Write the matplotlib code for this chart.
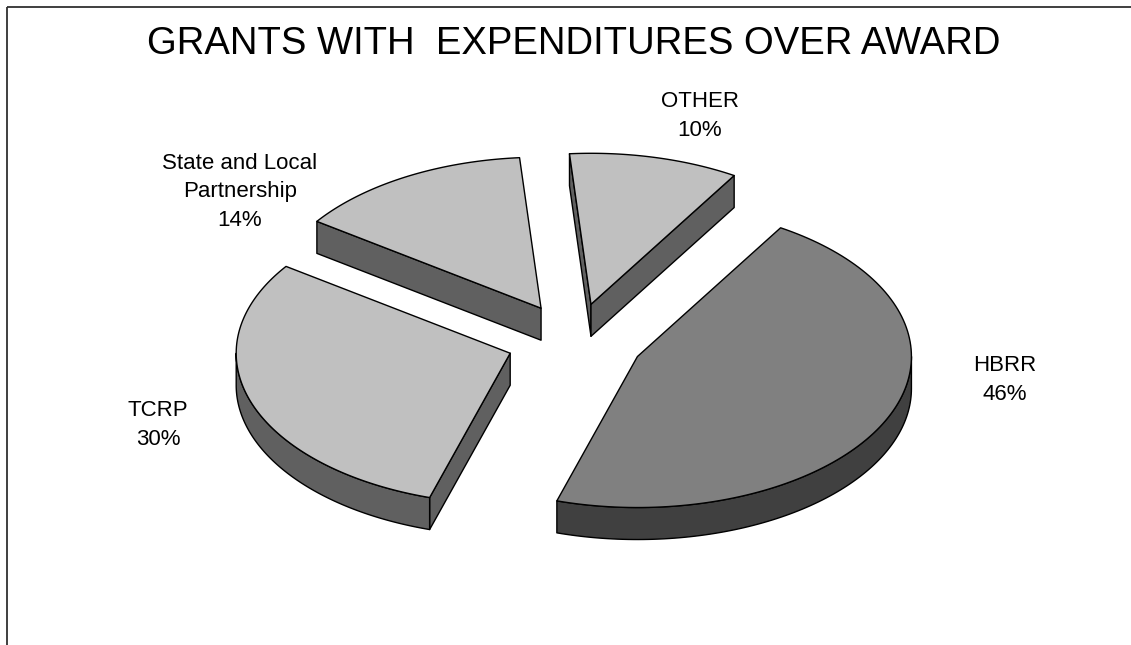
import numpy as np
import matplotlib.pyplot as plt
from matplotlib.patches import Polygon, Rectangle

plt.rcParams['font.family'] = ['Liberation Sans', 'DejaVu Sans']

# Datos
titulo = 'GRANTS WITH  EXPENDITURES OVER AWARD'
categorias = ['OTHER', 'HBRR', 'TCRP', 'State and Local\nPartnership']
valores = [10, 46, 30, 14]

# Estilo de cada porción
colores_sup = ['#c0c0c0', '#808080', '#c0c0c0', '#c0c0c0']
colores_lado = ['#606060', '#404040', '#606060', '#606060']

# Geometría del pastel (pixeles)
cx, cy = 575, 341
a, b = 274, 151       # semiejes de la elipse
alto = 32             # grosor
explosion = 0.25
inicio = -4.5         # grados, sentido horario desde las 12

# Posición de las etiquetas (pixeles)
pos_etiquetas = [(700, 116), (1005, 380), (158, 425), (240, 192)]


def punto(x0, y0, ang, dy=0):
    t = np.radians(ang)
    return (x0 + a * np.sin(t), y0 - b * np.cos(t) + dy)


fig = plt.figure(figsize=(11.31, 6.45), dpi=100)
ax = fig.add_axes([0, 0, 1, 1])
ax.set_xlim(0, 1131)
ax.set_ylim(645, 0)
ax.axis('off')

# Borde del área del gráfico
ax.add_patch(Rectangle((7, 7), 1200, 700, fill=False, edgecolor='#303030', lw=1.3))

total = sum(valores)
porciones = []
ang = inicio
for i, v in enumerate(valores):
    ang2 = ang + 360 * v / total
    medio = np.radians((ang + ang2) / 2)
    x0 = cx + explosion * a * np.sin(medio)
    y0 = cy - explosion * b * np.cos(medio)
    porciones.append((y0, i, x0, ang, ang2))
    ang = ang2

# Dibujar de atrás hacia adelante
lw = 1.0
for y0, i, x0, t1, t2 in sorted(porciones):
    sup = colores_sup[i]
    lado = colores_lado[i]
    angs = np.linspace(t1, t2, 120)
    # paredes radiales visibles
    medio = punto(x0, y0, (t1 + t2) / 2)
    for t in (t1, t2):
        q = punto(x0, y0, t)
        dx, dy = q[0] - x0, q[1] - y0
        n = np.array([dy, -dx])
        if np.dot(n, [medio[0] - x0, medio[1] - y0]) > 0:
            n = -n
        if n[1] > 0:
            pared = [(x0, y0), q, (q[0], q[1] + alto), (x0, y0 + alto)]
            ax.add_patch(Polygon(pared, closed=True, facecolor=lado,
                                 edgecolor='black', lw=lw, joinstyle='round'))
    # borde frontal
    lo, hi = max(t1, 90), min(t2, 270)
    if hi > lo:
        arco = np.linspace(lo, hi, 100)
        arriba = [punto(x0, y0, t) for t in arco]
        abajo = [punto(x0, y0, t, alto) for t in arco[::-1]]
        ax.add_patch(Polygon(arriba + abajo, closed=True, facecolor=lado,
                             edgecolor='black', lw=lw, joinstyle='round'))
    # cara superior
    cara = [(x0, y0)] + [punto(x0, y0, t) for t in angs]
    ax.add_patch(Polygon(cara, closed=True, facecolor=sup,
                         edgecolor='black', lw=lw, joinstyle='round'))

# Etiquetas
for i, (px, py) in enumerate(pos_etiquetas):
    texto = f'{categorias[i]}\n{valores[i]}%'
    ax.text(px, py, texto, ha='center', va='center', fontsize=16,
            linespacing=1.45, color='black')

ax.text(574, 44, titulo, ha='center', va='center', fontsize=27.5, color='black')

fig.savefig('out.png', dpi=100)
